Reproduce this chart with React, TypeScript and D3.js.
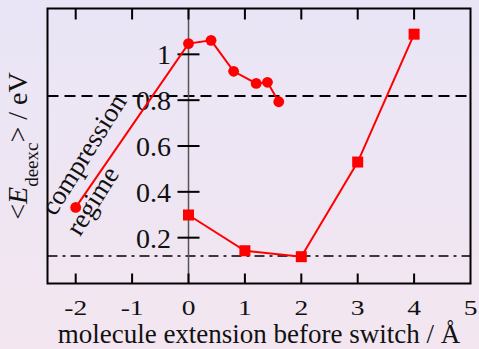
import React from 'react'
import * as d3 from 'd3'

const W = 479
const H = 349

// upper run (circles), lower run (squares)
const circleX = [-2, 0, 0.4, 0.8, 1.2, 1.4, 1.6]
const circleY = [0.332, 1.047, 1.061, 0.926, 0.873, 0.878, 0.793]
const squareX = [0, 1, 2, 3, 4]
const squareY = [0.299, 0.143, 0.117, 0.53, 1.088]

const xTicks = [-2, -1, 0, 1, 2, 3, 4, 5]
const yTicks = [0.2, 0.4, 0.6, 0.8, 1]
const dashedLevel = 0.818
const dashDotLevel = 0.12

const FONT = '"Liberation Serif", "Times New Roman", serif'

export default function App() {
  const svgRef = React.useRef<SVGSVGElement>(null)

  React.useEffect(() => {
    const svg = d3.select(svgRef.current!)
    svg.selectAll('*').remove()

    const x = d3.scaleLinear().domain([-2.5, 5]).range([47.5, 470.5])
    const y = d3.scaleLinear().domain([0, 1.2]).range([283.5, 8.5])
    const [x0, x1] = x.range()
    const [yb, yt] = y.range()

    // background gradient
    const grad = svg.append('defs').append('linearGradient')
      .attr('id', 'bg').attr('x1', 0).attr('y1', 0).attr('x2', 0).attr('y2', 1)
    grad.append('stop').attr('offset', '0%').attr('stop-color', '#e9e5f6')
    grad.append('stop').attr('offset', '100%').attr('stop-color', '#f3e6f0')
    svg.append('rect').attr('width', W).attr('height', H).attr('fill', 'url(#bg)')

    const g = svg.append('g')

    // reference levels
    g.append('line')
      .attr('x1', x0).attr('x2', x1).attr('y1', y(dashedLevel)).attr('y2', y(dashedLevel))
      .attr('stroke', '#000').attr('stroke-width', 2).attr('stroke-dasharray', '11,6')
    g.append('line')
      .attr('x1', x0).attr('x2', x1).attr('y1', y(dashDotLevel)).attr('y2', y(dashDotLevel))
      .attr('stroke', '#000').attr('stroke-width', 1.6).attr('stroke-dasharray', '10,5,3,5')

    // zero line (acts as y axis)
    g.append('line')
      .attr('x1', x(0)).attr('x2', x(0)).attr('y1', yb).attr('y2', yt)
      .attr('stroke', '#555').attr('stroke-width', 1.5)

    // x ticks top + bottom
    xTicks.filter(t => t < 5).forEach(t => {
      g.append('line').attr('x1', x(t)).attr('x2', x(t)).attr('y1', yb).attr('y2', yb - 10)
        .attr('stroke', '#000').attr('stroke-width', 2)
      g.append('line').attr('x1', x(t)).attr('x2', x(t)).attr('y1', yt).attr('y2', yt + 11)
        .attr('stroke', '#000').attr('stroke-width', 2)
    })
    xTicks.forEach(t => {
      g.append('text')
        .attr('transform', `translate(${x(t)},315) scale(1.25,1)`)
        .attr('text-anchor', 'middle')
        .attr('font-family', FONT).attr('font-size', 22).attr('fill', '#111')
        .text(t)
    })

    // y ticks across the zero line
    yTicks.forEach(t => {
      g.append('line').attr('x1', x(0) - 11).attr('x2', x(0) + 11).attr('y1', y(t)).attr('y2', y(t))
        .attr('stroke', '#000').attr('stroke-width', 2)
      g.append('text')
        .attr('x', 171).attr('y', y(t)).attr('dy', '0.36em')
        .attr('text-anchor', 'end')
        .attr('font-family', FONT).attr('font-size', 28).attr('fill', '#111')
        .text(t === 1 ? '1' : d3.format('.1f')(t))
    })

    // series
    const line = d3.line<[number, number]>().x(d => x(d[0])).y(d => y(d[1]))
    const circ = circleX.map((v, i) => [v, circleY[i]] as [number, number])
    const sq = squareX.map((v, i) => [v, squareY[i]] as [number, number])

    g.append('path').attr('d', line(circ)).attr('fill', 'none').attr('stroke', '#ff0000').attr('stroke-width', 2)
    g.append('path').attr('d', line(sq)).attr('fill', 'none').attr('stroke', '#ff0000').attr('stroke-width', 2)

    g.selectAll('circle.pt').data(circ).enter().append('circle')
      .attr('class', 'pt')
      .attr('cx', d => x(d[0])).attr('cy', d => y(d[1])).attr('r', 5.4)
      .attr('fill', '#ff0000')
    g.selectAll('rect.pt').data(sq).enter().append('rect')
      .attr('class', 'pt')
      .attr('x', d => x(d[0]) - 5.5).attr('y', d => y(d[1]) - 5.5)
      .attr('width', 11).attr('height', 11)
      .attr('fill', '#ff0000')

    // frame
    g.append('rect')
      .attr('x', x0).attr('y', yt).attr('width', x1 - x0).attr('height', yb - yt)
      .attr('fill', 'none').attr('stroke', '#000').attr('stroke-width', 2)

    // annotation
    const ann = g.append('text')
      .attr('transform', 'translate(55,217) rotate(-58)')
      .attr('font-family', FONT).attr('font-size', 27).attr('fill', '#111')
    ann.append('tspan').attr('x', 0).attr('y', 0).text('compression')
    ann.append('tspan').attr('x', -4).attr('dy', 32).text('regime')

    // axis titles
    g.append('text')
      .attr('x', (x0 + x1) / 2).attr('y', 343)
      .attr('text-anchor', 'middle')
      .attr('font-family', FONT).attr('font-size', 27).attr('fill', '#111')
      .text('molecule extension before switch / Å')

    const yl = g.append('text')
      .attr('transform', `translate(27,${(yb + yt) / 2}) rotate(-90)`)
      .attr('text-anchor', 'middle')
      .attr('font-family', FONT).attr('font-size', 28).attr('fill', '#111')
    yl.append('tspan').text('<')
    yl.append('tspan').attr('font-style', 'italic').text('E')
    yl.append('tspan').attr('font-size', 19).attr('dy', 11).text('deexc')
    yl.append('tspan').attr('dy', -11).text('> / eV')
  }, [])

  return (
    <svg ref={svgRef} width={W} height={H}
      style={{ position: 'absolute', left: 0, top: 0, display: 'block' }} />
  )
}
